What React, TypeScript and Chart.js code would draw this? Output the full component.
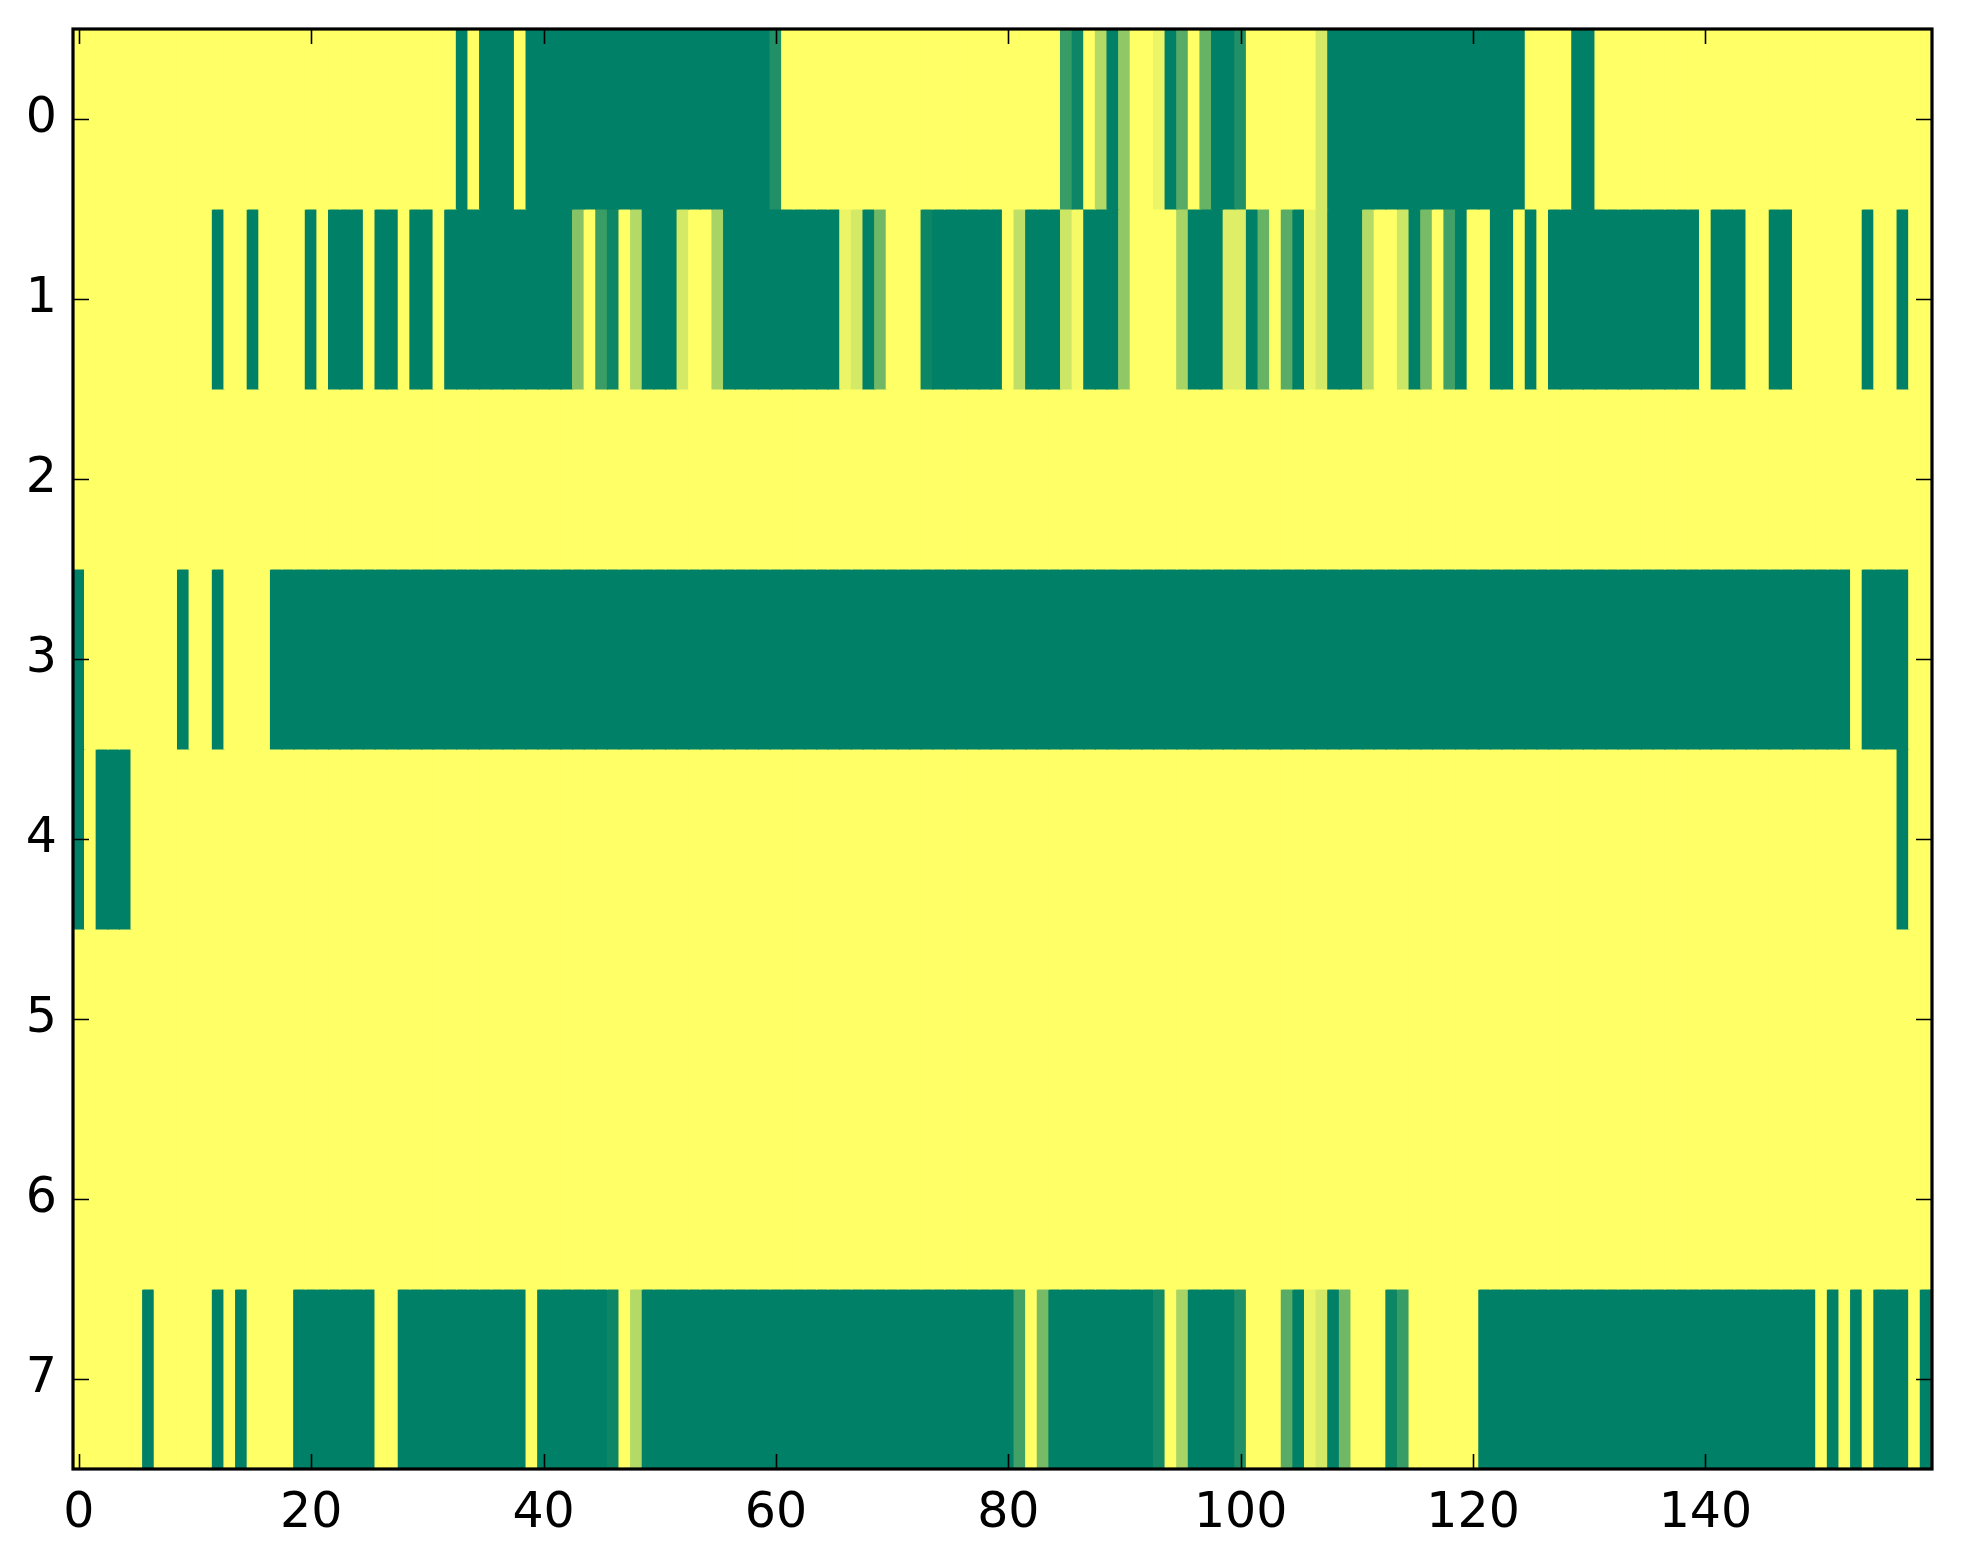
import { useEffect, useRef } from "react";
import { Chart, registerables } from "chart.js";

Chart.register(...registerables);

// Cell values (0 = green, 1 = yellow, summer colormap), 160 columns per row
const row0 = [
  1, 1, 1, 1, 1, 1, 1, 1, 1, 1, 1, 1, 1, 1, 1, 1, 1, 1, 1, 1,
  1, 1, 1, 1, 1, 1, 1, 1, 1, 1, 1, 1, 1, 0, 1, 0, 0, 0, 1, 0,
  0, 0, 0, 0, 0, 0, 0, 0, 0, 0, 0, 0, 0, 0, 0, 0, 0, 0, 0, 0,
  0.13, 1, 1, 1, 1, 1, 1, 1, 1, 1, 1, 1, 1, 1, 1, 1, 1, 1, 1, 1,
  1, 1, 1, 1, 1, 0.22, 0.05, 1, 0.7, 0, 0.57, 1, 1, 0.92, 0, 0.34, 1, 0.4, 0, 0,
  0.13, 1, 1, 1, 1, 1, 1, 0.83, 0, 0, 0, 0, 0, 0, 0, 0, 0, 0, 0, 0,
  0, 0, 0, 0, 0, 1, 1, 1, 1, 0, 0, 1, 1, 1, 1, 1, 1, 1, 1, 1,
  1, 1, 1, 1, 1, 1, 1, 1, 1, 1, 1, 1, 1, 1, 1, 1, 1, 1, 1, 1,
];
const row1 = [
  1, 1, 1, 1, 1, 1, 1, 1, 1, 1, 1, 1, 0, 1, 1, 0, 1, 1, 1, 1,
  0, 1, 0, 0, 0, 1, 0, 0, 1, 0, 0, 1, 0, 0, 0, 0, 0, 0, 0, 0,
  0, 0, 0, 0.53, 1, 0.23, 0.05, 1, 0.7, 0, 0, 0, 0.83, 1, 1, 0.66, 0, 0, 0, 0,
  0, 0, 0, 0, 0, 0, 0.92, 0.83, 0, 0.44, 1, 1, 1, 0.05, 0, 0, 0, 0, 0, 0,
  1, 0.75, 0, 0, 0, 0.8, 0.96, 0, 0, 0, 0.57, 1, 1, 1, 1, 0.66, 0, 0, 0, 0.87,
  0.87, 0, 0.4, 1, 0.35, 0, 0.92, 0.83, 0, 0, 0, 0.7, 1, 1, 0.8, 0, 0.47, 1, 0.26, 0,
  1, 1, 0, 0, 1, 0, 1, 0, 0, 0, 0, 0, 0, 0, 0, 0, 0, 0, 0, 0,
  1, 0, 0, 0, 1, 1, 0, 0, 1, 1, 1, 1, 1, 1, 0, 1, 1, 0, 1, 1,
];
const row2 = [
  1, 1, 1, 1, 1, 1, 1, 1, 1, 1, 1, 1, 1, 1, 1, 1, 1, 1, 1, 1,
  1, 1, 1, 1, 1, 1, 1, 1, 1, 1, 1, 1, 1, 1, 1, 1, 1, 1, 1, 1,
  1, 1, 1, 1, 1, 1, 1, 1, 1, 1, 1, 1, 1, 1, 1, 1, 1, 1, 1, 1,
  1, 1, 1, 1, 1, 1, 1, 1, 1, 1, 1, 1, 1, 1, 1, 1, 1, 1, 1, 1,
  1, 1, 1, 1, 1, 1, 1, 1, 1, 1, 1, 1, 1, 1, 1, 1, 1, 1, 1, 1,
  1, 1, 1, 1, 1, 1, 1, 1, 1, 1, 1, 1, 1, 1, 1, 1, 1, 1, 1, 1,
  1, 1, 1, 1, 1, 1, 1, 1, 1, 1, 1, 1, 1, 1, 1, 1, 1, 1, 1, 1,
  1, 1, 1, 1, 1, 1, 1, 1, 1, 1, 1, 1, 1, 1, 1, 1, 1, 1, 1, 1,
];
const row3 = [
  0, 1, 1, 1, 1, 1, 1, 1, 1, 0, 1, 1, 0, 1, 1, 1, 1, 0, 0, 0,
  0, 0, 0, 0, 0, 0, 0, 0, 0, 0, 0, 0, 0, 0, 0, 0, 0, 0, 0, 0,
  0, 0, 0, 0, 0, 0, 0, 0, 0, 0, 0, 0, 0, 0, 0, 0, 0, 0, 0, 0,
  0, 0, 0, 0, 0, 0, 0, 0, 0, 0, 0, 0, 0, 0, 0, 0, 0, 0, 0, 0,
  0, 0, 0, 0, 0, 0, 0, 0, 0, 0, 0, 0, 0, 0, 0, 0, 0, 0, 0, 0,
  0, 0, 0, 0, 0, 0, 0, 0, 0, 0, 0, 0, 0, 0, 0, 0, 0, 0, 0, 0,
  0, 0, 0, 0, 0, 0, 0, 0, 0, 0, 0, 0, 0, 0, 0, 0, 0, 0, 0, 0,
  0, 0, 0, 0, 0, 0, 0, 0, 0, 0, 0, 0, 0, 1, 0, 0, 0, 0, 1, 1,
];
const row4 = [
  0, 1, 0, 0, 0, 1, 1, 1, 1, 1, 1, 1, 1, 1, 1, 1, 1, 1, 1, 1,
  1, 1, 1, 1, 1, 1, 1, 1, 1, 1, 1, 1, 1, 1, 1, 1, 1, 1, 1, 1,
  1, 1, 1, 1, 1, 1, 1, 1, 1, 1, 1, 1, 1, 1, 1, 1, 1, 1, 1, 1,
  1, 1, 1, 1, 1, 1, 1, 1, 1, 1, 1, 1, 1, 1, 1, 1, 1, 1, 1, 1,
  1, 1, 1, 1, 1, 1, 1, 1, 1, 1, 1, 1, 1, 1, 1, 1, 1, 1, 1, 1,
  1, 1, 1, 1, 1, 1, 1, 1, 1, 1, 1, 1, 1, 1, 1, 1, 1, 1, 1, 1,
  1, 1, 1, 1, 1, 1, 1, 1, 1, 1, 1, 1, 1, 1, 1, 1, 1, 1, 1, 1,
  1, 1, 1, 1, 1, 1, 1, 1, 1, 1, 1, 1, 1, 1, 1, 1, 1, 0, 1, 1,
];
const row5 = [
  1, 1, 1, 1, 1, 1, 1, 1, 1, 1, 1, 1, 1, 1, 1, 1, 1, 1, 1, 1,
  1, 1, 1, 1, 1, 1, 1, 1, 1, 1, 1, 1, 1, 1, 1, 1, 1, 1, 1, 1,
  1, 1, 1, 1, 1, 1, 1, 1, 1, 1, 1, 1, 1, 1, 1, 1, 1, 1, 1, 1,
  1, 1, 1, 1, 1, 1, 1, 1, 1, 1, 1, 1, 1, 1, 1, 1, 1, 1, 1, 1,
  1, 1, 1, 1, 1, 1, 1, 1, 1, 1, 1, 1, 1, 1, 1, 1, 1, 1, 1, 1,
  1, 1, 1, 1, 1, 1, 1, 1, 1, 1, 1, 1, 1, 1, 1, 1, 1, 1, 1, 1,
  1, 1, 1, 1, 1, 1, 1, 1, 1, 1, 1, 1, 1, 1, 1, 1, 1, 1, 1, 1,
  1, 1, 1, 1, 1, 1, 1, 1, 1, 1, 1, 1, 1, 1, 1, 1, 1, 1, 1, 1,
];
const row6 = [
  1, 1, 1, 1, 1, 1, 1, 1, 1, 1, 1, 1, 1, 1, 1, 1, 1, 1, 1, 1,
  1, 1, 1, 1, 1, 1, 1, 1, 1, 1, 1, 1, 1, 1, 1, 1, 1, 1, 1, 1,
  1, 1, 1, 1, 1, 1, 1, 1, 1, 1, 1, 1, 1, 1, 1, 1, 1, 1, 1, 1,
  1, 1, 1, 1, 1, 1, 1, 1, 1, 1, 1, 1, 1, 1, 1, 1, 1, 1, 1, 1,
  1, 1, 1, 1, 1, 1, 1, 1, 1, 1, 1, 1, 1, 1, 1, 1, 1, 1, 1, 1,
  1, 1, 1, 1, 1, 1, 1, 1, 1, 1, 1, 1, 1, 1, 1, 1, 1, 1, 1, 1,
  1, 1, 1, 1, 1, 1, 1, 1, 1, 1, 1, 1, 1, 1, 1, 1, 1, 1, 1, 1,
  1, 1, 1, 1, 1, 1, 1, 1, 1, 1, 1, 1, 1, 1, 1, 1, 1, 1, 1, 1,
];
const row7 = [
  1, 1, 1, 1, 1, 1, 0, 1, 1, 1, 1, 1, 0, 1, 0, 1, 1, 1, 1, 0,
  0, 0, 0, 0, 0, 0, 1, 1, 0, 0, 0, 0, 0, 0, 0, 0, 0, 0, 0, 1,
  0, 0, 0, 0, 0, 0, 0.05, 1, 0.7, 0, 0, 0, 0, 0, 0, 0, 0, 0, 0, 0,
  0, 0, 0, 0, 0, 0, 0, 0, 0, 0, 0, 0, 0, 0, 0, 0, 0, 0, 0, 0,
  0, 0.26, 1, 0.47, 0, 0, 0, 0, 0, 0, 0, 0, 0, 0.08, 1, 0.66, 0, 0, 0, 0,
  0.13, 1, 1, 1, 0.35, 0, 0.92, 0.83, 0, 0.44, 1, 1, 1, 0.05, 0.22, 1, 1, 1, 1, 1,
  1, 0, 0, 0, 0, 0, 0, 0, 0, 0, 0, 0, 0, 0, 0, 0, 0, 0, 0, 0,
  0, 0, 0, 0, 0, 0, 0, 0, 0, 0, 1, 0, 1, 0, 1, 0, 0, 0, 1, 0,
];

const rows = [row0, row1, row2, row3, row4, row5, row6, row7];
const xTicks = [0, 20, 40, 60, 80, 100, 120, 140];
const yTicks = [0, 1, 2, 3, 4, 5, 6, 7];

function summer(v: number): string {
  const r = Math.round(255 * v);
  const g = Math.round(255 * (0.5 + 0.5 * v));
  return `rgb(${r},${g},102)`;
}

export default function App() {
  const ref = useRef<HTMLCanvasElement>(null);

  useEffect(() => {
    if (!ref.current) return;
    const datasets = rows.map((row, r) => ({
      data: row.map((_v, c) => ({ x: c, y: [r - 0.5, r + 0.5] })),
      backgroundColor: row.map(summer),
      borderWidth: 0,
      barPercentage: 1,
      categoryPercentage: 1,
      grouped: false,
      inflateAmount: 0.6,
    }));

    const frame = {
      id: "frame",
      afterDraw(chart: any) {
        const { ctx, chartArea } = chart;
        const { left, right, top, bottom } = chartArea;
        const xs = chart.scales.x;
        const ys = chart.scales.y;
        ctx.save();
        ctx.strokeStyle = "#000";
        ctx.lineWidth = 1.6;
        ctx.beginPath();
        xTicks.forEach((v) => {
          const px = Math.round(xs.getPixelForValue(v)) + 0.5;
          ctx.moveTo(px, bottom);
          ctx.lineTo(px, bottom - 15);
          ctx.moveTo(px, top);
          ctx.lineTo(px, top + 15);
        });
        yTicks.forEach((v) => {
          const py = Math.round(ys.getPixelForValue(v)) + 0.5;
          ctx.moveTo(left, py);
          ctx.lineTo(left + 16, py);
          ctx.moveTo(right, py);
          ctx.lineTo(right - 16, py);
        });
        ctx.stroke();
        ctx.lineWidth = 3.2;
        ctx.strokeRect(left, top, right - left, bottom - top);
        ctx.restore();
      },
    };

    const font = { family: "'DejaVu Sans', sans-serif", size: 49 };

    const chart = new Chart(ref.current, {
      type: "bar",
      data: { datasets: datasets as any },
      options: {
        animation: false,
        responsive: false,
        devicePixelRatio: 1,
        layout: { padding: { left: 0, top: 29, right: 31, bottom: 0 } },
        plugins: { legend: { display: false }, tooltip: { enabled: false } },
        scales: {
          x: {
            type: "linear",
            offset: false,
            min: -0.5,
            max: 159.5,
            grid: { display: false, drawTicks: false },
            border: { display: false },
            ticks: { padding: 16, font, color: "#000", maxRotation: 0, autoSkip: false },
            afterBuildTicks: (s: any) => {
              s.ticks = xTicks.map((v) => ({ value: v }));
            },
            afterFit: (s: any) => {
              s.height = 95;
              s.paddingLeft = 0;
              s.paddingRight = 0;
            },
          },
          y: {
            type: "linear",
            reverse: true,
            min: -0.5,
            max: 7.5,
            grid: { display: false, drawTicks: false },
            border: { display: false },
            ticks: { padding: 16, font, color: "#000", autoSkip: false },
            afterBuildTicks: (s: any) => {
              s.ticks = yTicks.map((v) => ({ value: v }));
            },
            afterFit: (s: any) => {
              s.width = 73;
              s.paddingTop = 0;
              s.paddingBottom = 0;
            },
          },
        },
      } as any,
      plugins: [frame],
    });
    return () => chart.destroy();
  }, []);

  return (
    <div style={{ position: "fixed", left: 0, top: 0, width: 1963, height: 1564, background: "#fff" }}>
      <canvas ref={ref} width={1963} height={1564} style={{ width: 1963, height: 1564, display: "block" }} />
    </div>
  );
}
